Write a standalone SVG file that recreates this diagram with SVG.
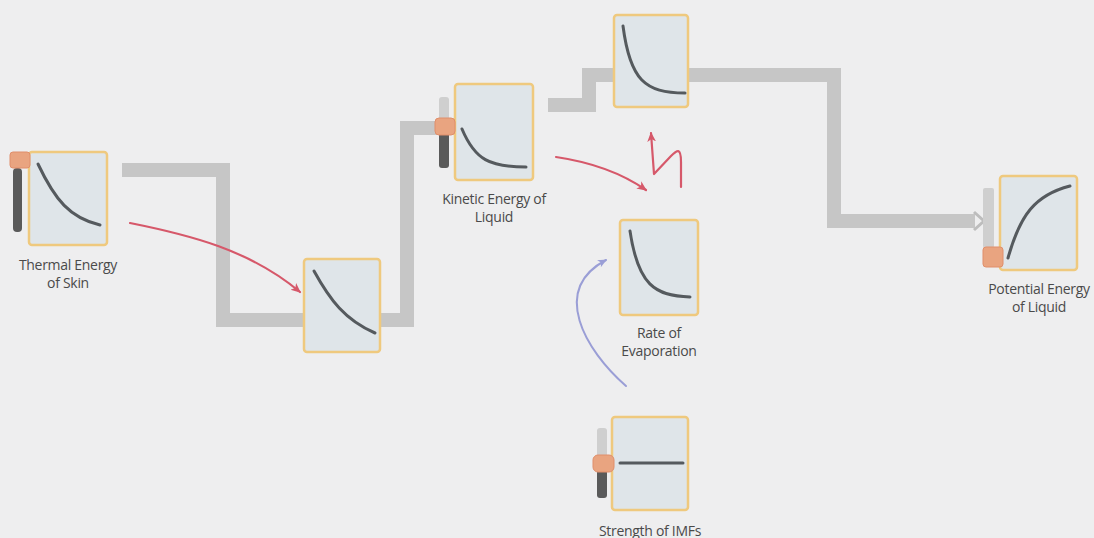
<svg xmlns="http://www.w3.org/2000/svg" width="1094" height="538" viewBox="0 0 1094 538">
<defs>
<style>
.bg{fill:#eeeeef}
.box{fill:#dfe5e9;stroke:#efc97e;stroke-width:2.5}
.curve{fill:none;stroke:#555a5e;stroke-width:3;stroke-linecap:round}
.pipe{fill:none;stroke:#c6c6c6;stroke-width:14;stroke-linejoin:miter}
.lbl{font-family:"Open Sans","Noto Sans","Liberation Sans",sans-serif;font-size:14px;fill:#4a4a4a;text-anchor:middle;letter-spacing:-0.3px}
.dark{fill:#5a5a5a}
.light{fill:#cfcfcf}
.handle{fill:#e9a480;stroke:#e08e6a;stroke-width:1}
.red{fill:none;stroke:#d6586a;stroke-width:2.2;stroke-linecap:round;stroke-linejoin:round}
.blue{fill:none;stroke:#9a9ed6;stroke-width:2;stroke-linecap:round}
</style>
<marker id="ar" viewBox="0 0 10 10" refX="8" refY="5" markerWidth="11" markerHeight="11" orient="auto" markerUnits="userSpaceOnUse">
<path d="M0,1 L9,5 L0,9 L2.5,5 Z" fill="#d6586a"/>
</marker>
<marker id="ab" viewBox="0 0 10 10" refX="8" refY="5" markerWidth="10" markerHeight="10" orient="auto" markerUnits="userSpaceOnUse">
<path d="M0,1 L9,5 L0,9 L2.5,5 Z" fill="#9a9ed6"/>
</marker>
</defs>
<rect class="bg" x="0" y="0" width="1094" height="538"/>

<g id="connectors">
<path class="pipe" d="M122,170 H223 V320 H305"/>
<path class="pipe" d="M380,320 H407 V128 H440"/>
<path class="pipe" d="M548,105 H589 V75 H614"/>
<path class="pipe" d="M688,75 H834 V221 H975"/>
<path d="M974,212 L984,221 L974,230" fill="none" stroke="#bdbdbd" stroke-width="3"/>
<path class="red" d="M130,223 C190,235 250,250 300,292" marker-end="url(#ar)"/>
<path class="red" d="M556,157 C590,162 620,172 646,190" marker-end="url(#ar)"/>
<path class="red" d="M681,187 L681,162 C681,147 677,150 671,156 L654,174 L651,133" marker-end="url(#ar)"/>
<path class="blue" d="M626,386 C585,350 550,290 606,260" marker-end="url(#ab)"/>
</g>

<g id="node-thermal">
<rect class="dark" x="13" y="168" width="9" height="64" rx="4"/>
<rect class="box" x="29" y="152" width="78" height="93" rx="3"/>
<path class="curve" d="M38,164 C55,200 70,218 100,225"/>
<rect class="handle" x="10" y="152" width="20" height="16" rx="3"/>
<text class="lbl" x="68" y="270">Thermal Energy</text>
<text class="lbl" x="68" y="288">of Skin</text>
</g>

<g id="node-mid">
<rect class="box" x="304" y="259" width="76" height="93" rx="3"/>
<path class="curve" d="M314,271 C330,300 345,320 375,333"/>
</g>

<g id="node-kinetic">
<rect class="light" x="439" y="97" width="10" height="25" rx="3"/>
<rect class="dark" x="439" y="132" width="10" height="36" rx="3"/>
<rect class="box" x="455" y="84" width="78" height="96" rx="3"/>
<path class="curve" d="M462,129 C475,160 490,167 526,167"/>
<rect class="handle" x="435" y="118" width="20" height="17" rx="4"/>
<text class="lbl" x="494" y="204">Kinetic Energy of</text>
<text class="lbl" x="494" y="222">Liquid</text>
</g>

<g id="node-top">
<rect class="box" x="614" y="15" width="74" height="92" rx="3"/>
<path class="curve" d="M623,26 C630,80 645,93 685,93"/>
</g>

<g id="node-potential">
<rect class="light" x="983" y="188" width="11" height="60" rx="2"/>
<rect class="box" x="1000" y="176" width="77" height="94" rx="3"/>
<path class="curve" d="M1008,258 C1020,215 1035,195 1070,186"/>
<rect class="handle" x="983" y="247" width="20" height="20" rx="3"/>
<text class="lbl" x="1039" y="294">Potential Energy</text>
<text class="lbl" x="1039" y="312">of Liquid</text>
</g>

<g id="node-evap">
<rect class="box" x="620" y="220" width="78" height="95" rx="3"/>
<path class="curve" d="M630,231 C638,285 655,296 690,297"/>
<text class="lbl" x="659" y="338">Rate of</text>
<text class="lbl" x="659" y="356">Evaporation</text>
</g>

<g id="node-imfs">
<rect class="light" x="597" y="428" width="10" height="30" rx="3"/>
<rect class="dark" x="597" y="470" width="10" height="28" rx="3"/>
<rect class="box" x="612" y="417" width="76" height="93" rx="3"/>
<path class="curve" d="M620,463 H683"/>
<rect class="handle" x="593" y="455" width="21" height="17" rx="5"/>
<text class="lbl" x="650" y="536">Strength of IMFs</text>
</g>
</svg>
